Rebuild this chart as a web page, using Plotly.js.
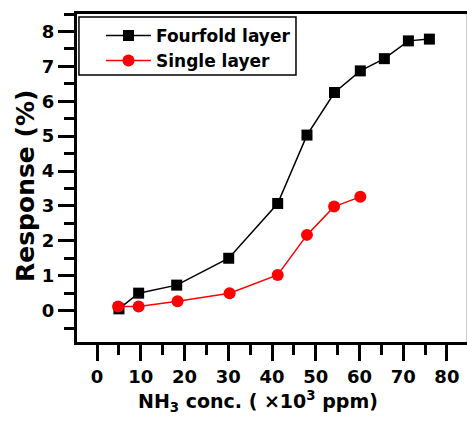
<!DOCTYPE html>
<html>
<head>
<meta charset="utf-8">
<script src="https://cdn.plot.ly/plotly-3.0.1.min.js"></script>
<style>html,body{margin:0;padding:0;background:#fff}</style>
</head>
<body>
<div id="chart" style="width:467px;height:425px"></div>
<script>
var fourfoldX = [5, 9.5, 18.2, 30.1, 41.3, 48, 54.3, 60.2, 65.7, 71.2, 76];
var fourfoldY = [0.05, 0.5, 0.73, 1.5, 3.07, 5.03, 6.25, 6.87, 7.22, 7.73, 7.78];
var singleX = [4.8, 9.5, 18.4, 30.3, 41.3, 48, 54.2, 60.2];
var singleY = [0.12, 0.12, 0.27, 0.5, 1.02, 2.17, 2.98, 3.26];
var seriesNames = ["Fourfold layer", "Single layer"];
var xTitle = "NH<sub>3</sub> conc. ( \u00d710<sup>3</sup> ppm)";
var yTitle = "Response (%)";

var fontFam = "DejaVu Sans, Arial, sans-serif";
var traces = [
  {x: fourfoldX, y: fourfoldY, name: seriesNames[0], type: "scatter", mode: "lines+markers",
   line: {color: "#000000", width: 1.5}, marker: {symbol: "square", size: 11, color: "#000000"}},
  {x: singleX, y: singleY, name: seriesNames[1], type: "scatter", mode: "lines+markers",
   line: {color: "#ff0000", width: 1.5}, marker: {symbol: "circle", size: 12, color: "#ff0000"}}
];
var axisCommon = {
  showgrid: false, zeroline: false, showline: true, linecolor: "#000", linewidth: 3,
  ticks: "outside", ticklen: 16, tickwidth: 3, tickcolor: "#000",
  tickfont: {family: fontFam, size: 18, color: "#000", weight: "bold"}
};
var layout = {
  width: 467, height: 425,
  margin: {l: 77, r: 0, t: 14, b: 83},
  paper_bgcolor: "#fff", plot_bgcolor: "#fff",
  showlegend: true,
  legend: {x: 0.0615, y: 0.988, xanchor: "left", yanchor: "top",
    borderwidth: 0, bgcolor: "rgba(0,0,0,0)",
    font: {family: fontFam, size: 17, color: "#000", weight: "bold"},
    itemwidth: 45, tracegroupgap: 0},
  xaxis: Object.assign({}, axisCommon, {
    range: [-4.6, 84.6], dtick: 10, tick0: 0, mirror: true,
    minor: {dtick: 5, tick0: 0, ticks: "outside", ticklen: 10, tickwidth: 3, tickcolor: "#000"}
  }),
  yaxis: Object.assign({}, axisCommon, {
    range: [-0.9, 8.5], dtick: 1, tick0: 0,
    minor: {dtick: 0.5, tick0: 0, ticks: "outside", ticklen: 10, tickwidth: 3, tickcolor: "#000"}
  }),
  annotations: [
    {text: xTitle, xref: "paper", yref: "paper", x: 0.464, y: -0.18, xanchor: "center", yanchor: "middle",
     showarrow: false, font: {family: fontFam, size: 19, color: "#000", weight: "bold"}},
    {text: yTitle, xref: "paper", yref: "paper", x: -0.1333, y: 0.4756, xanchor: "center", yanchor: "middle",
     textangle: -90, showarrow: false, font: {family: fontFam, size: 25, color: "#000", weight: "bold"}}
  ],
  shapes: [
    {type: "line", xref: "paper", yref: "paper", x0: 1, x1: 1, y0: 0, y1: 1,
     line: {color: "#999", width: 1}},
    {type: "rect", xref: "paper", yref: "paper", x0: 0.005, x1: 0.5615, y0: 0.814, y1: 0.991,
     line: {color: "#000", width: 1.5}, fillcolor: "rgba(0,0,0,0)"}
  ]
};
Plotly.newPlot("chart", traces, layout, {displayModeBar: false, staticPlot: true});
</script>
</body>
</html>
